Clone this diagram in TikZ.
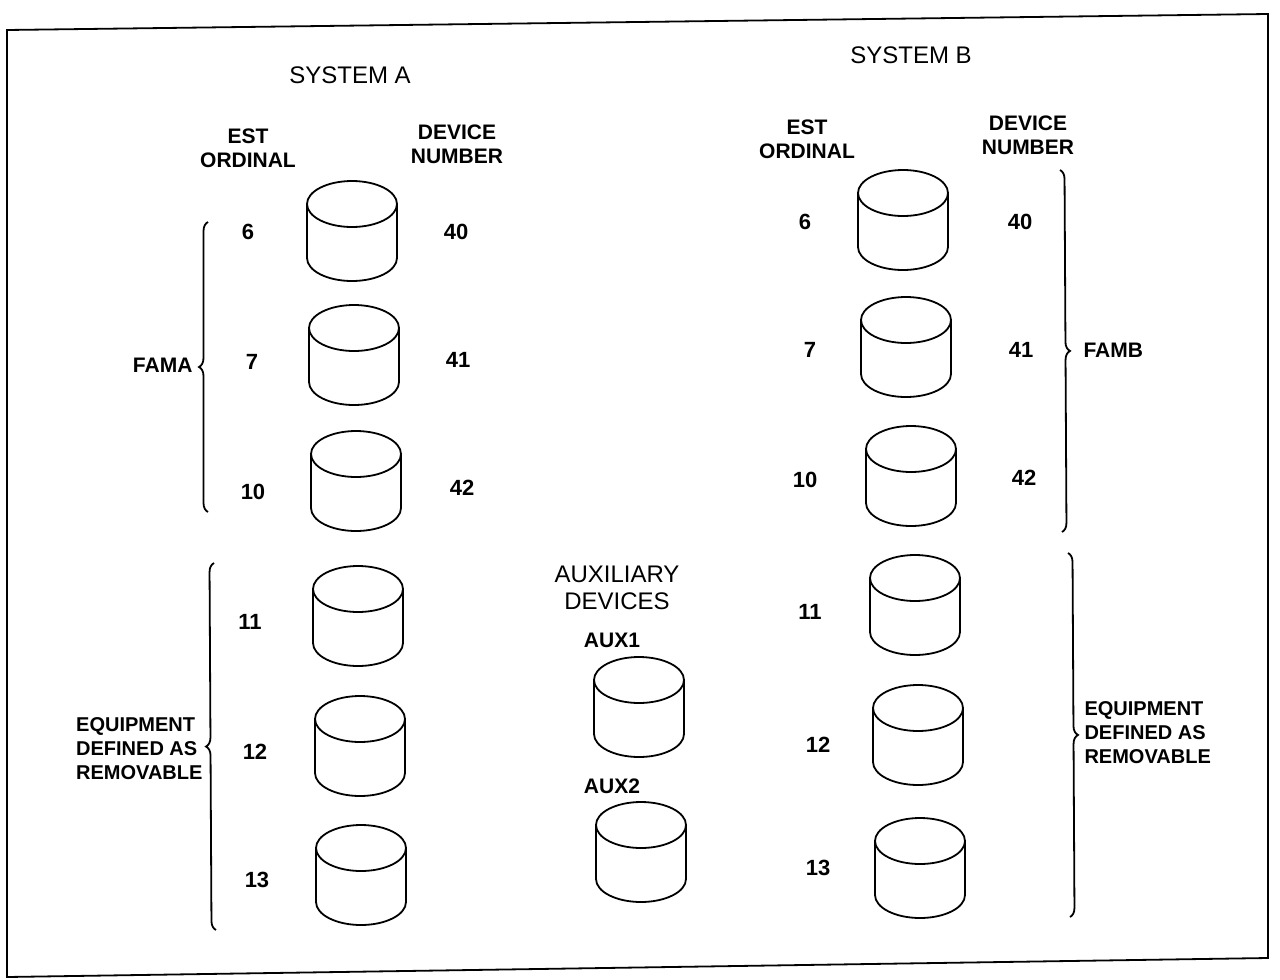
\documentclass[tikz,border=0pt]{standalone}
\usepackage{fontspec}
\setmainfont{Liberation Sans}
\usetikzlibrary{decorations.pathreplacing}
% disk pack: name, x, y of its centre
\newcommand{\disk}[3]{%
    \coordinate (#1) at (#2,#3);
    \draw[disk] (#1) ++(0,-27) ellipse (45 and 23);
    \draw[disk] (#1) ++(-45,-27) -- ++(0,54) arc (180:0:45 and 23) -- ++(0,-54);
}
\begin{document}
\begin{tikzpicture}[x=1pt,y=-1pt,
    disk/.style={line width=1.8pt},
    num/.style={font=\bfseries\fontsize{22}{22}\selectfont},
    head/.style={font=\bfseries\fontsize{21}{24}\selectfont, align=center},
    title/.style={font=\fontsize{24}{27}\selectfont, align=center},
    side/.style={font=\bfseries\fontsize{20}{24}\selectfont, align=left},
    fam/.style={decorate, decoration={brace, amplitude=9pt}, line width=1.8pt}]
    \useasboundingbox (0,0) rectangle (1280,980);
    \draw[line width=1.8pt] (7,30) -- (1268,14) -- (1268,958) -- (7,977) -- cycle;
    % system A
    \node[title] (sysA) at (350,75) {SYSTEM A};
    \node[head] (estA) at (248,148) {EST\\ORDINAL};
    \node[head] (devA) at (457,144) {DEVICE\\NUMBER};
    \foreach \o/\cx/\cy/\ox/\oy in {6/352/231/248/232, 7/354/355/252/362, 10/356/481/253/492,
        11/358/616/250/622, 12/360/746/255/752, 13/361/875/257/880}{
        \disk{dA\o}{\cx}{\cy}
        \node[num] (oA\o) at (\ox,\oy) {\o};
    }
    \node[num] (nA40) at (456,232) {40};
    \node[num] (nA41) at (458,360) {41};
    \node[num] (nA42) at (462,488) {42};
    \draw[fam] (208,512) -- (208,222);
    \node[num, font=\bfseries\fontsize{21}{21}\selectfont, anchor=east] (famA) at (196,365) {FAMA};
    \draw[fam] (216,930) -- (214,563);
    \node[side, anchor=east] (remA) at (206,749) {EQUIPMENT\\DEFINED AS\\REMOVABLE};
    % auxiliary
    \node[title] (aux) at (617,588) {AUXILIARY\\DEVICES};
    \node[head] (aux1) at (612,640) {AUX1};
    \disk{dX1}{639}{707}
    \node[head] (aux2) at (612,786) {AUX2};
    \disk{dX2}{641}{852}
    % system B
    \node[title] (sysB) at (911,55) {SYSTEM B};
    \node[head] (estB) at (807,139) {EST\\ORDINAL};
    \node[head] (devB) at (1028,135) {DEVICE\\NUMBER};
    \foreach \o/\cx/\cy/\ox/\oy in {6/903/220/805/222, 7/906/347/810/350, 10/911/476/805/480,
        11/915/605/810/612, 12/918/735/818/745, 13/920/868/818/868}{
        \disk{dB\o}{\cx}{\cy}
        \node[num] (oB\o) at (\ox,\oy) {\o};
    }
    \node[num] (nB40) at (1020,222) {40};
    \node[num] (nB41) at (1021,350) {41};
    \node[num] (nB42) at (1024,478) {42};
    \draw[fam] (1060,170) -- (1062,532);
    \node[num, font=\bfseries\fontsize{21}{21}\selectfont, anchor=west] (famB) at (1080,350) {FAMB};
    \draw[fam] (1068,553) -- (1070,917);
    \node[side, anchor=west] (remB) at (1081,733) {EQUIPMENT\\DEFINED AS\\REMOVABLE};
\end{tikzpicture}
\end{document}
